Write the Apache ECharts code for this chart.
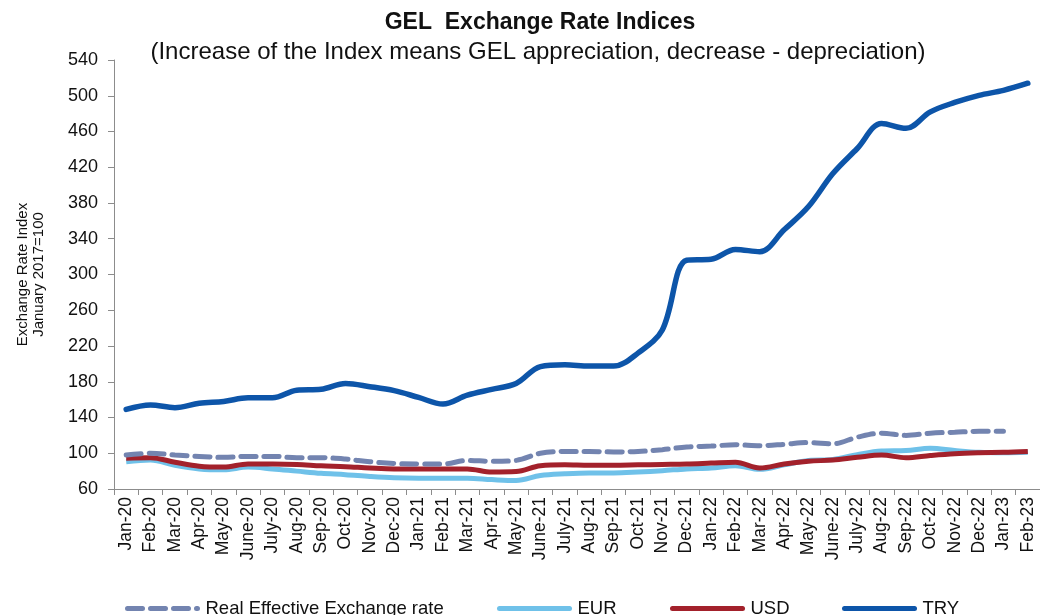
<!DOCTYPE html>
<html>
<head>
<meta charset="utf-8">
<script src="https://cdn.jsdelivr.net/npm/echarts@6/dist/echarts.min.js"></script>
<style>
  html, body { margin: 0; padding: 0; background: #fff; }
  #chart { width: 1040px; height: 615px; }
</style>
</head>
<body>
<div id="chart"></div>
<script>
  const months = [
    "Jan-20", "Feb-20", "Mar-20", "Apr-20", "May-20", "June-20", "July-20", "Aug-20", "Sep-20", "Oct-20", "Nov-20", "Dec-20",
    "Jan-21", "Feb-21", "Mar-21", "Apr-21", "May-21", "June-21", "July-21", "Aug-21", "Sep-21", "Oct-21", "Nov-21", "Dec-21",
    "Jan-22", "Feb-22", "Mar-22", "Apr-22", "May-22", "June-22", "July-22", "Aug-22", "Sep-22", "Oct-22", "Nov-22", "Dec-22",
    "Jan-23", "Feb-23"
  ];

  // real effective rate has no Feb-23 value yet
  const reer = [
    98, 100, 98, 96.5, 95.5, 96.5, 96.5, 95, 95, 93.5, 90.5, 88.5,
    88, 88, 92, 91, 92, 100, 102, 102, 101.5, 102, 104, 107,
    108, 109.5, 108.5, 110, 112, 110.5, 118, 122.5, 120, 122.5, 123.5, 124.5,
    124.5, null
  ];
  const eur = [
    90.5, 92.5, 86.5, 82.5, 81.5, 84.5, 82.5, 80, 77.5, 76, 74, 72.5,
    72, 72, 72, 70.5, 69.5, 75, 77, 78, 78, 79, 80.5, 82.5,
    83.5, 86, 82, 87, 92, 93, 98.5, 102.5, 103, 105.5, 103, 101,
    100.5, 101
  ];
  const usd = [
    94.5, 95, 90, 85.5, 84.5, 88, 88, 87.5, 86, 85, 83.5, 82.5,
    82.5, 82.5, 82.5, 79, 79.5, 86, 87, 86.5, 86.5, 87, 87.5, 88,
    89, 90, 83.5, 88, 91, 92.5, 95.5, 98, 95, 97.5, 99.5, 100.5,
    101, 102
  ];
  const tryIdx = [
    149, 154, 151, 156, 158, 162, 162, 170.5, 171.5, 178, 174.5, 170,
    162.5, 155, 165, 171.5, 178, 197, 199, 197.5, 197.5, 212, 238, 316,
    317, 328, 325.5, 350, 376, 413, 441, 469, 463.5, 482, 492.5, 500.5,
    506, 514
  ];

  const yTicks = { min: 60, max: 540, step: 40 };

  const COLORS = {
    reer: "#7384b0",
    eur: "#6fc1e9",
    usd: "#a3212b",
    tryc: "#0d55a9",
    axis: "#8c8c8c",
    text: "#111111",
  };

  const FONT = "'Liberation Sans', Arial, sans-serif";
  const REER_DASH = [15, 8];

  const chart = echarts.init(document.getElementById("chart"));

  function legendAt(left, name, dashed) {
    return {
      show: true,
      left: left,
      top: 599,
      padding: 0,
      data: [name],
      itemWidth: 70,
      itemHeight: 14,
      itemGap: 0,
      itemStyle: { opacity: 0 },
      lineStyle: { width: 5, type: dashed ? REER_DASH : "solid", cap: "round" },
      textStyle: { fontFamily: FONT, fontSize: 18.5, color: COLORS.text, padding: [0, 0, 0, 3] },
    };
  }

  chart.setOption({
    animation: false,
    backgroundColor: "#ffffff",
    title: [
      {
        text: "GEL  Exchange Rate Indices",
        left: 535,
        top: 6,
        textAlign: "center",
        textStyle: { fontFamily: FONT, fontSize: 23, fontWeight: "bold", color: COLORS.text },
      },
      {
        text: "(Increase of the Index means GEL appreciation, decrease - depreciation)",
        left: 533,
        top: 35,
        textAlign: "center",
        textStyle: { fontFamily: FONT, fontSize: 24, fontWeight: "normal", color: COLORS.text },
      },
    ],
    legend: [
      legendAt(125, "Real Effective Exchange rate", true),
      legendAt(497, "EUR", false),
      legendAt(670, "USD", false),
      legendAt(842, "TRY", false),
    ],
    grid: { left: 114, top: 60, width: 931, height: 429 },
    xAxis: {
      type: "category",
      data: months,
      boundaryGap: true,
      axisLine: { lineStyle: { color: COLORS.axis, width: 1 } },
      axisTick: { show: true, alignWithLabel: false, length: 6, lineStyle: { color: COLORS.axis } },
      axisLabel: {
        interval: 0,
        rotate: 90,
        margin: 8,
        fontFamily: FONT,
        fontSize: 17.5,
        color: COLORS.text,
      },
      splitLine: { show: false },
    },
    yAxis: {
      type: "value",
      min: yTicks.min,
      max: yTicks.max,
      interval: yTicks.step,
      name: "Exchange Rate Index\nJanuary 2017=100",
      nameLocation: "middle",
      nameRotate: 90,
      nameGap: 67,
      nameTextStyle: { fontFamily: FONT, fontSize: 15, color: COLORS.text, lineHeight: 16 },
      axisLine: { show: true, lineStyle: { color: COLORS.axis, width: 1 } },
      axisTick: { show: true, length: 6, lineStyle: { color: COLORS.axis } },
      axisLabel: { fontFamily: FONT, fontSize: 18, color: COLORS.text, margin: 16 },
      splitLine: { show: false },
    },
    series: [
      {
        name: "Real Effective Exchange rate",
        type: "line",
        data: reer,
        smooth: 0.35,
        symbol: "none",
        z: 4,
        lineStyle: { color: COLORS.reer, width: 5, type: REER_DASH, cap: "round" },
        itemStyle: { color: COLORS.reer },
      },
      {
        name: "EUR",
        type: "line",
        data: eur,
        smooth: 0.35,
        symbol: "none",
        z: 2,
        lineStyle: { color: COLORS.eur, width: 5 },
        itemStyle: { color: COLORS.eur },
      },
      {
        name: "USD",
        type: "line",
        data: usd,
        smooth: 0.35,
        symbol: "none",
        z: 3,
        lineStyle: { color: COLORS.usd, width: 5 },
        itemStyle: { color: COLORS.usd },
      },
      {
        name: "TRY",
        type: "line",
        data: tryIdx,
        smooth: 0.35,
        symbol: "none",
        z: 5,
        lineStyle: { color: COLORS.tryc, width: 5.5, cap: "round" },
        itemStyle: { color: COLORS.tryc },
      },
    ],
  });
</script>
</body>
</html>
